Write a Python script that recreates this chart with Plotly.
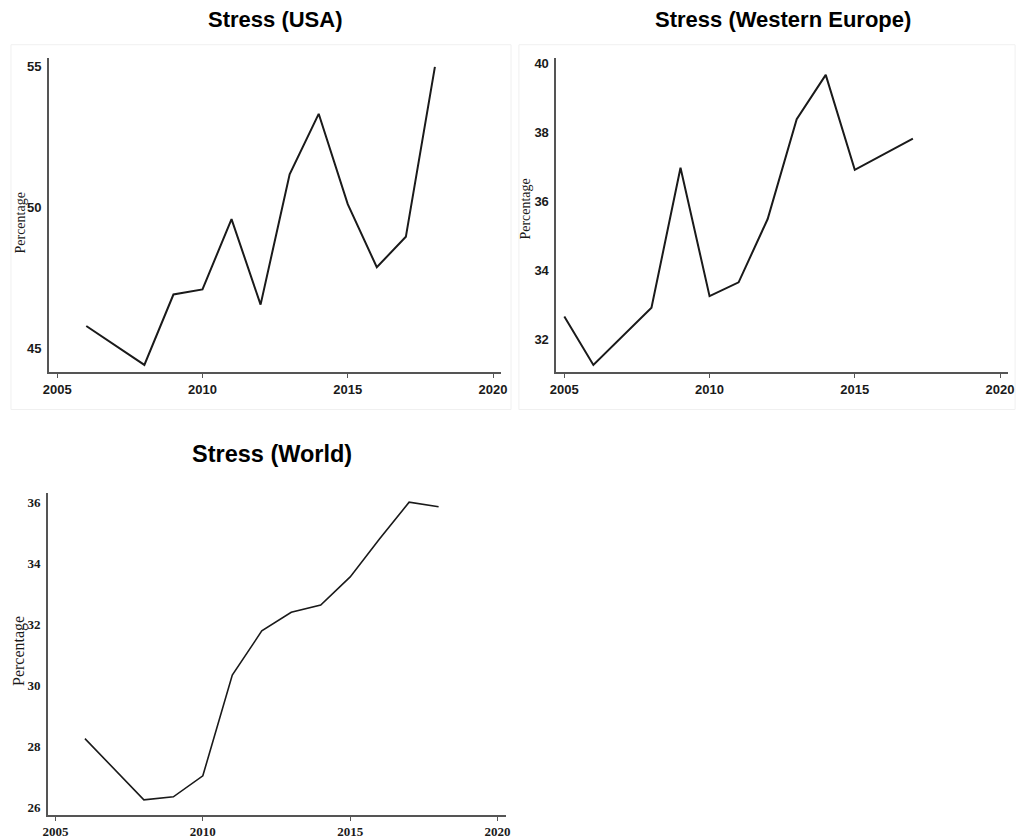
import plotly.graph_objects as go

W, H = 1027, 839

# ---- data ----
usa_years = [2006, 2008, 2009, 2010, 2011, 2012, 2013, 2014, 2015, 2016, 2017, 2018]
usa_stress = [45.79, 44.41, 46.91, 47.09, 49.59, 46.55, 51.18, 53.33, 50.12, 47.88, 48.96, 55.0]

we_years = [2005, 2006, 2008, 2009, 2010, 2011, 2012, 2013, 2014, 2015, 2017]
we_stress = [32.66, 31.25, 32.91, 36.98, 33.25, 33.65, 35.49, 38.39, 39.68, 36.92, 37.83]

world_years = [2006, 2008, 2009, 2010, 2011, 2012, 2013, 2014, 2015, 2016, 2017, 2018]
world_stress = [28.25, 26.24, 26.34, 27.03, 30.33, 31.78, 32.39, 32.63, 33.55, 34.8, 36.0, 35.85]

x_ticks = [2005, 2010, 2015, 2020]
usa_yticks = [45, 50, 55]
we_yticks = [32, 34, 36, 38, 40]
world_yticks = [26, 28, 30, 32, 34, 36]

titles = ["Stress (USA)", "Stress (Western Europe)", "Stress (World)"]
ylabel = "Percentage"


def px_x(p):
    return p / W


def px_y(p):
    return 1 - p / H


fig = go.Figure()
fig.add_trace(go.Scatter(x=usa_years, y=usa_stress, mode="lines",
                         line=dict(color="#1a1a1a", width=2), xaxis="x", yaxis="y"))
fig.add_trace(go.Scatter(x=we_years, y=we_stress, mode="lines",
                         line=dict(color="#1a1a1a", width=2), xaxis="x2", yaxis="y2"))
fig.add_trace(go.Scatter(x=world_years, y=world_stress, mode="lines",
                         line=dict(color="#1a1a1a", width=1.6), xaxis="x3", yaxis="y3"))

sans_tick = dict(family="Liberation Sans, Arial", size=13, color="#1a1a1a", weight="bold")
serif_tick = dict(family="Liberation Serif, Times New Roman", size=13, color="#1a1a1a", weight="bold")

axis_common = dict(showline=True, linecolor="#555555", linewidth=1.5, showgrid=False,
                   zeroline=False, mirror=False)

def xax(domain, rng, anchor, font):
    return dict(axis_common, domain=domain, range=rng, anchor=anchor, tickvals=x_ticks,
                ticks="outside", ticklen=4, tickcolor="#555555", tickwidth=1.2,
                tickfont=font)

def yax(domain, rng, anchor, vals, font):
    return dict(axis_common, domain=domain, range=rng, anchor=anchor, tickvals=vals,
                ticks="", tickfont=font, ticklabelstandoff=3)

fig.update_layout(
    width=W, height=H,
    margin=dict(l=0, r=0, t=0, b=0),
    paper_bgcolor="white", plot_bgcolor="white",
    showlegend=False,
    xaxis=xax([px_x(43.3), px_x(501)], [2004.71, 2020.28], "y", sans_tick),
    yaxis=yax([px_y(372.7), px_y(56.7)], [44.14, 55.3], "x", usa_yticks, sans_tick),
    xaxis2=xax([px_x(556.7), px_x(1014)], [2004.72, 2020.28], "y2", sans_tick),
    yaxis2=yax([px_y(372.7), px_y(56.7)], [31.03, 40.16], "x2", we_yticks, sans_tick),
    xaxis3=xax([px_x(42.3), px_x(506)], [2004.74, 2020.29], "y3", serif_tick),
    yaxis3=yax([px_y(817.7), px_y(494)], [25.75, 36.30], "x3", world_yticks, serif_tick),
)

# panel frames
for x0, x1 in [(5, 511), (519, 1021)]:
    fig.add_shape(type="rect", xref="paper", yref="paper",
                  x0=px_x(x0), x1=px_x(x1), y0=px_y(410), y1=px_y(43),
                  line=dict(color="#f0f0f0", width=1), layer="below")

title_font = dict(family="Liberation Sans, Arial", size=22, color="#000000", weight="bold")
for text, cx, cy, sz in [(titles[0], 272, 18, 22), (titles[1], 786, 18, 22),
                         (titles[2], 269, 455, 23.5)]:
    fig.add_annotation(text=text, xref="paper", yref="paper", x=px_x(cx), y=px_y(cy),
                       showarrow=False, font=dict(title_font, size=sz),
                       xanchor="center", yanchor="middle")

label_font = dict(family="Liberation Serif, Times New Roman", size=14, color="#1a1a1a")
for cx, cy, sz in [(15, 222, 14), (526, 208, 14), (13, 653, 16)]:
    fig.add_annotation(text=ylabel, xref="paper", yref="paper", x=px_x(cx), y=px_y(cy),
                       showarrow=False, textangle=-90, xanchor="center", yanchor="middle",
                       font=dict(label_font, size=sz))

fig.write_html("out.html",
               config={"displayModeBar": False},
               post_script="document.body.style.margin='0';document.body.style.overflow='hidden';")
